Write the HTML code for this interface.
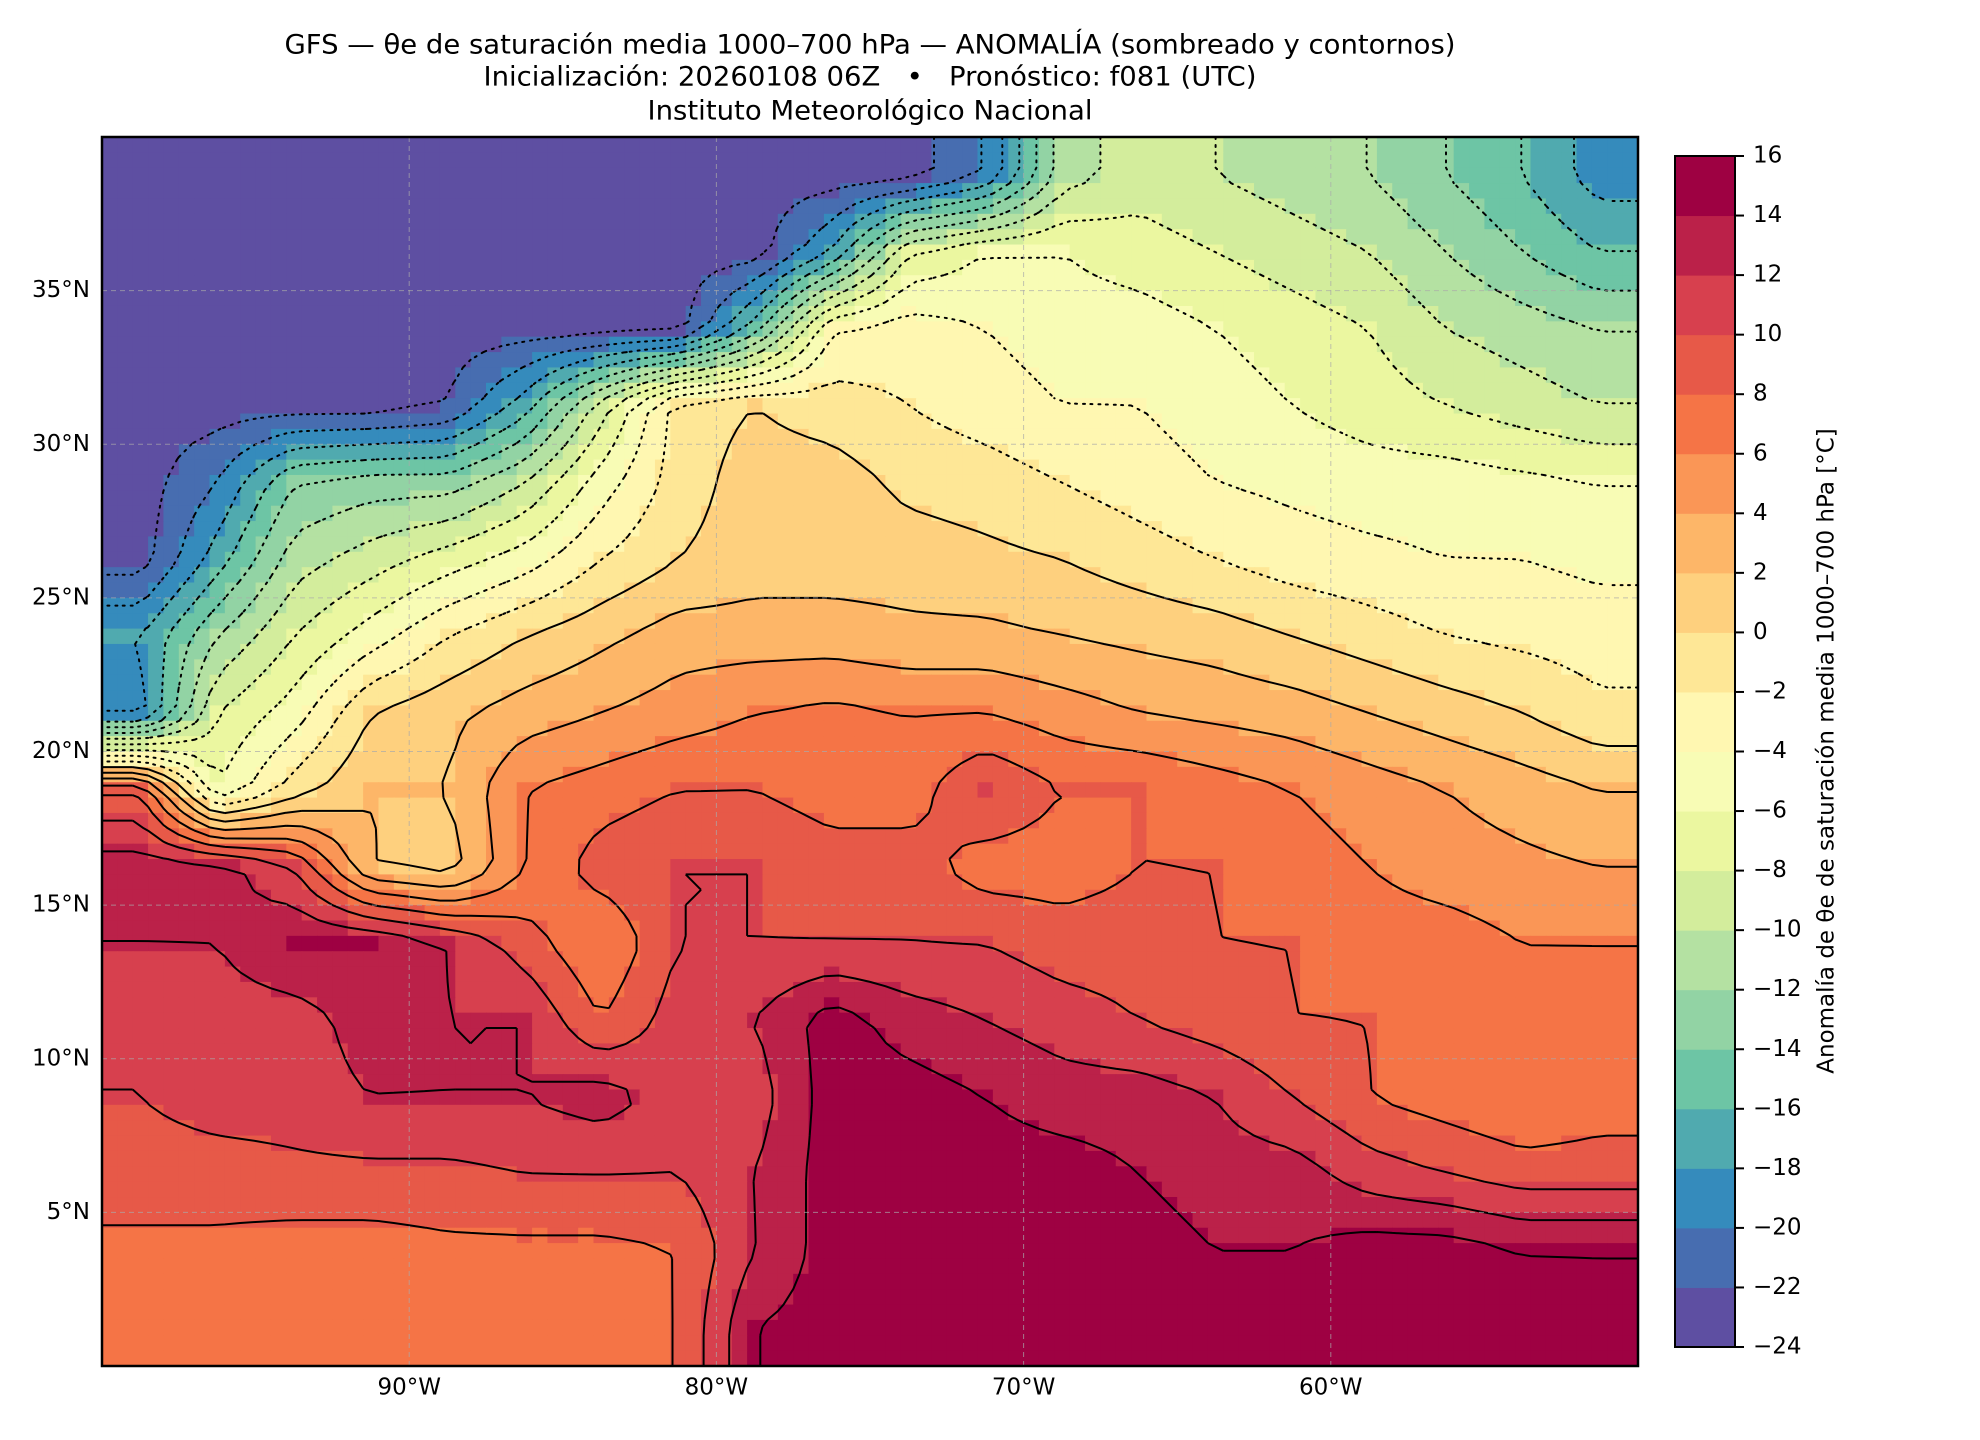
<!DOCTYPE html>
<html><head><meta charset="utf-8">
<style>
html,body{margin:0;padding:0;background:#fff;}
svg{display:block;font-family:"DejaVu Sans","Liberation Sans",sans-serif;}
</style></head>
<body>
<svg id="fig" width="1980" height="1440" viewBox="0 0 1980 1440" xmlns="http://www.w3.org/2000/svg">
<rect width="1980" height="1440" fill="#fff"/>
<text x="870" y="46" font-size="27" text-anchor="middle" dominant-baseline="middle" textLength="1171" lengthAdjust="spacingAndGlyphs">GFS — θe de saturación media 1000–700 hPa — ANOMALÍA (sombreado y contornos)</text>
<text x="870" y="78" font-size="27" text-anchor="middle" dominant-baseline="middle" textLength="773" lengthAdjust="spacingAndGlyphs" xml:space="preserve">Inicialización: 20260108 06Z   •   Pronóstico: f081 (UTC)</text>
<text x="870" y="112" font-size="27" text-anchor="middle" dominant-baseline="middle" textLength="445" lengthAdjust="spacingAndGlyphs">Instituto Meteorológico Nacional</text>
<g id="cells"></g>
<g id="contours"></g>
<g id="grid"></g>
<rect x="102" y="137" width="1536" height="1229" fill="none" stroke="#000" stroke-width="2.5"/>
<g id="axes" font-size="23"></g>
<g id="cbar"></g>
<text transform="translate(1827,751) rotate(-90)" font-size="23" text-anchor="middle" dominant-baseline="middle">Anomalía de θe de saturación media 1000–700 hPa [°C]</text>
</svg>
<script>
const lons=[-98.75,-96.25,-93.75,-91.25,-88.75,-86.25,-83.75,-81.25,-78.75,-76.25,-73.75,-71.25,-68.75,-66.25,-63.75,-61.25,-58.75,-56.25,-53.75,-51.25];
const lats=[38.75,36.25,33.75,31.25,28.75,26.25,23.75,21.25,18.75,16.25,13.75,11.25,8.75,6.25,3.75,1.25];
const row0=[-23,-23,-23,-23,-23,-23,-23,-23,-23,-23,-23,-20,-11,-9,-10,-11,-12,-14,-16,-19];
const row1=[-23,-23,-23,-23,-23,-23,-23,-23,-23,-18,-8,-6,-6,-7,-8,-9,-10,-12,-14,-16];
const row2=[-23,-23,-23,-23,-23,-23,-23,-23,-15,-4,-3,-4,-5,-5,-6,-7,-8,-10,-11,-12];
const row3=[-23,-23,-23,-23,-22,-17,-9,-1,0,-1,-2,-3,-4,-4,-5,-6,-7,-8,-9,-10];
const row4=[-23,-20,-14,-13,-13,-10,-5,-1,1,1,-0.5,-1,-2,-3,-4,-4.5,-5,-5,-5.5,-6];
const row5=[-23,-17,-11,-9,-7,-5,-2,0,1,1,1,0.5,0,-1,-2,-3,-3.5,-4,-4,-4.5];
const row6=[-18,-12,-8,-5,-2,0,1.5,3,3,3,2.5,2.5,2,1.5,1,0,-1,-2,-2.5,-3];
const row7=[-19,-8,-5,0,1.5,3,4,5,6,6.5,6,6,5,4,3.5,3,2,1,0,-1.5];
const row8=[8,-6,-1,2,2,6,7,8,8,7,7,10,8,8,7,6,5,4,3,2];
const row9=[13,13,10,2,1,6,9,10,10,9,9,7,7,8,8,7,6,5,4.5,4];
const row10=[12,12,14,14,12,9,6,10,10,10,10,10,9,9,8,8,7,7,6,6];
const row11=[10,11,11,13,12,12,8,11,12,15,13,12,11,10,9,8,8,7,7,7];
const row12=[10,11,11,12,12,12,13,11,11,15,15,14,13,13,12,10,8,7,6,7];
const row13=[9,9,9.5,9.5,9.5,10,10,10,12,15,15,15,15,14,13,13,11,10,9,9];
const row14=[7.5,7.5,7,7,7.5,7.5,7.5,8,12,15,15,15,15,15,14,14,15,15,14,14];
const row15=[7,7,7,7,7,7,7,8,14,15,15,15,15,15,15,15,15,15,15,14];
const rows=[row0,row1,row2,row3,row4,row5,row6,row7,row8,row9,row10,row11,row12,row13,row14,row15];
const cbTicks=[16,14,12,10,8,6,4,2,0,-2,-4,-6,-8,-10,-12,-14,-16,-18,-20,-22,-24];
const lonTicks=[-90,-80,-70,-60];
const latTicks=[35,30,25,20,15,10,5];

const NS="http://www.w3.org/2000/svg";
const X0=102,X1=1638,Y0=137,Y1=1366;
const xS=lon=>X0+(lon+100)/50*(X1-X0);
const yS=lat=>Y1-lat/40*(Y1-Y0);
const VMIN=-24,VMAX=16,NL=20;
const anchors=["#9e0142","#d53e4f","#f46d43","#fdae61","#fee08b","#ffffbf","#e6f598","#abdda4","#66c2a5","#3288bd","#5e4fa2"];
function hex(h){return [1,3,5].map(i=>parseInt(h.substr(i,2),16));}
function spectral(p){const f=p*10,i=Math.min(9,Math.floor(f)),t=f-i;const a=hex(anchors[i]),b=hex(anchors[i+1]);
 return "rgb("+a.map((v,k)=>Math.round(v+(b[k]-v)*t)).join(",")+")";}
function levelColor(i){return spectral(1-i/(NL-1));}
function colorFor(v){let i=Math.floor((v-VMIN)/2);i=Math.max(0,Math.min(NL-1,i));return levelColor(i);}
function sample(lon,lat){
 let fx=(lon-lons[0])/2.5, fy=(lats[0]-lat)/2.5;
 fx=Math.max(0,Math.min(lons.length-1,fx)); fy=Math.max(0,Math.min(lats.length-1,fy));
 const i=Math.min(lons.length-2,Math.floor(fx)), j=Math.min(lats.length-2,Math.floor(fy));
 const tx=fx-i, ty=fy-j;
 const a=rows[j][i],b=rows[j][i+1],c=rows[j+1][i],d=rows[j+1][i+1];
 return a*(1-tx)*(1-ty)+b*tx*(1-ty)+c*(1-tx)*ty+d*tx*ty;
}
const cells=document.getElementById('cells');
const step=0.5;
for(let lat=40;lat>0;lat-=step){
 for(let lon=-100;lon<-50;lon+=step){
  const v=sample(lon+step/2,lat-step/2);
  const r=document.createElementNS(NS,'rect');
  
  
  const x=xS(lon),y=yS(lat);
  r.setAttribute('x',x.toFixed(2));r.setAttribute('y',y.toFixed(2));
  r.setAttribute('width',(xS(lon+step)-x+0.6).toFixed(2));
  r.setAttribute('height',(yS(lat-step)-y+0.6).toFixed(2));
  r.setAttribute('fill',colorFor(v));
  cells.appendChild(r);
 }
}
const cg=document.getElementById('contours');
const cs=0.5, NX=Math.round(50/cs), NY=Math.round(40/cs);
const F=[];
for(let j=0;j<=NY;j++){F.push([]);for(let i=0;i<=NX;i++){F[j].push(sample(-100+i*cs,40-j*cs));}}
for(let lev=-22;lev<=14;lev+=2){
 let d="";
 for(let j=0;j<NY;j++)for(let i=0;i<NX;i++){
  const v=[F[j][i],F[j][i+1],F[j+1][i+1],F[j+1][i]];
  const p=[[i,j],[i+1,j],[i+1,j+1],[i,j+1]];
  const pts=[];
  for(let e=0;e<4;e++){const a=v[e],b=v[(e+1)%4];
   if((a<lev)!==(b<lev)){const t=(lev-a)/(b-a);const pa=p[e],pb=p[(e+1)%4];
    pts.push([pa[0]+(pb[0]-pa[0])*t,pa[1]+(pb[1]-pa[1])*t]);}}
  for(let k=0;k+1<pts.length;k+=2){
   const q=pts[k],r=pts[k+1];
   d+="M"+xS(-100+q[0]*cs).toFixed(1)+","+yS(40-q[1]*cs).toFixed(1)+"L"+xS(-100+r[0]*cs).toFixed(1)+","+yS(40-r[1]*cs).toFixed(1);
  }
 }
 if(!d)continue;
 const path=document.createElementNS(NS,'path');
 
 
 path.setAttribute('d',d);path.setAttribute('fill','none');path.setAttribute('stroke','#000');
 path.setAttribute('stroke-width','2');
 if(lev<0){path.setAttribute('stroke-dasharray','2,6');path.setAttribute('stroke-linecap','round');}
 cg.appendChild(path);
}
const grid=document.getElementById('grid'), axes=document.getElementById('axes');
lonTicks.forEach(l=>{
 const ln=document.createElementNS(NS,'line');
 
 
 ln.setAttribute('x1',xS(l));ln.setAttribute('x2',xS(l));ln.setAttribute('y1',Y0);ln.setAttribute('y2',Y1);
 ln.setAttribute('stroke','#aaa');ln.setAttribute('stroke-width','1');ln.setAttribute('stroke-dasharray','5,4');ln.setAttribute('opacity','0.7');
 grid.appendChild(ln);
 const t=document.createElementNS(NS,'text');
 
 
 t.setAttribute('x',xS(l));t.setAttribute('y',1388);t.setAttribute('text-anchor','middle');t.setAttribute('dominant-baseline','middle');
 t.textContent=(-l)+"°W";axes.appendChild(t);
});
latTicks.forEach(l=>{
 const ln=document.createElementNS(NS,'line');
 
 
 ln.setAttribute('x1',X0);ln.setAttribute('x2',X1);ln.setAttribute('y1',yS(l));ln.setAttribute('y2',yS(l));
 ln.setAttribute('stroke','#aaa');ln.setAttribute('stroke-width','1');ln.setAttribute('stroke-dasharray','5,4');ln.setAttribute('opacity','0.7');
 grid.appendChild(ln);
 const t=document.createElementNS(NS,'text');
 
 
 t.setAttribute('x',90);t.setAttribute('y',yS(l));t.setAttribute('text-anchor','end');t.setAttribute('dominant-baseline','middle');
 t.textContent=l+"°N";axes.appendChild(t);
});
const cb=document.getElementById('cbar');
const CX=1675,CW=60,CT=156,CB=1347;
const cy=v=>CB-(v-VMIN)/(VMAX-VMIN)*(CB-CT);
for(let i=0;i<NL;i++){
 const r=document.createElementNS(NS,'rect');
 
 
 const lo=VMIN+2*i;
 r.setAttribute('x',CX);r.setAttribute('y',cy(lo+2));r.setAttribute('width',CW);r.setAttribute('height',(cy(lo)-cy(lo+2)+0.5));
 r.setAttribute('fill',levelColor(i));cb.appendChild(r);
}
const fr=document.createElementNS(NS,'rect');


fr.setAttribute('x',CX);fr.setAttribute('y',CT);fr.setAttribute('width',CW);fr.setAttribute('height',CB-CT);
fr.setAttribute('fill','none');fr.setAttribute('stroke','#000');fr.setAttribute('stroke-width','2');cb.appendChild(fr);
cbTicks.forEach(v=>{
 const ln=document.createElementNS(NS,'line');
 
 
 ln.setAttribute('x1',CX+CW);ln.setAttribute('x2',CX+CW+9);ln.setAttribute('y1',cy(v));ln.setAttribute('y2',cy(v));
 ln.setAttribute('stroke','#000');ln.setAttribute('stroke-width','2');cb.appendChild(ln);
 const t=document.createElementNS(NS,'text');
 
 
 t.setAttribute('x',1753);t.setAttribute('y',cy(v));t.setAttribute('dominant-baseline','middle');t.setAttribute('font-size','23');
 t.textContent=(v<0?"−"+(-v):String(v));cb.appendChild(t);
});
</script>
</body></html>
